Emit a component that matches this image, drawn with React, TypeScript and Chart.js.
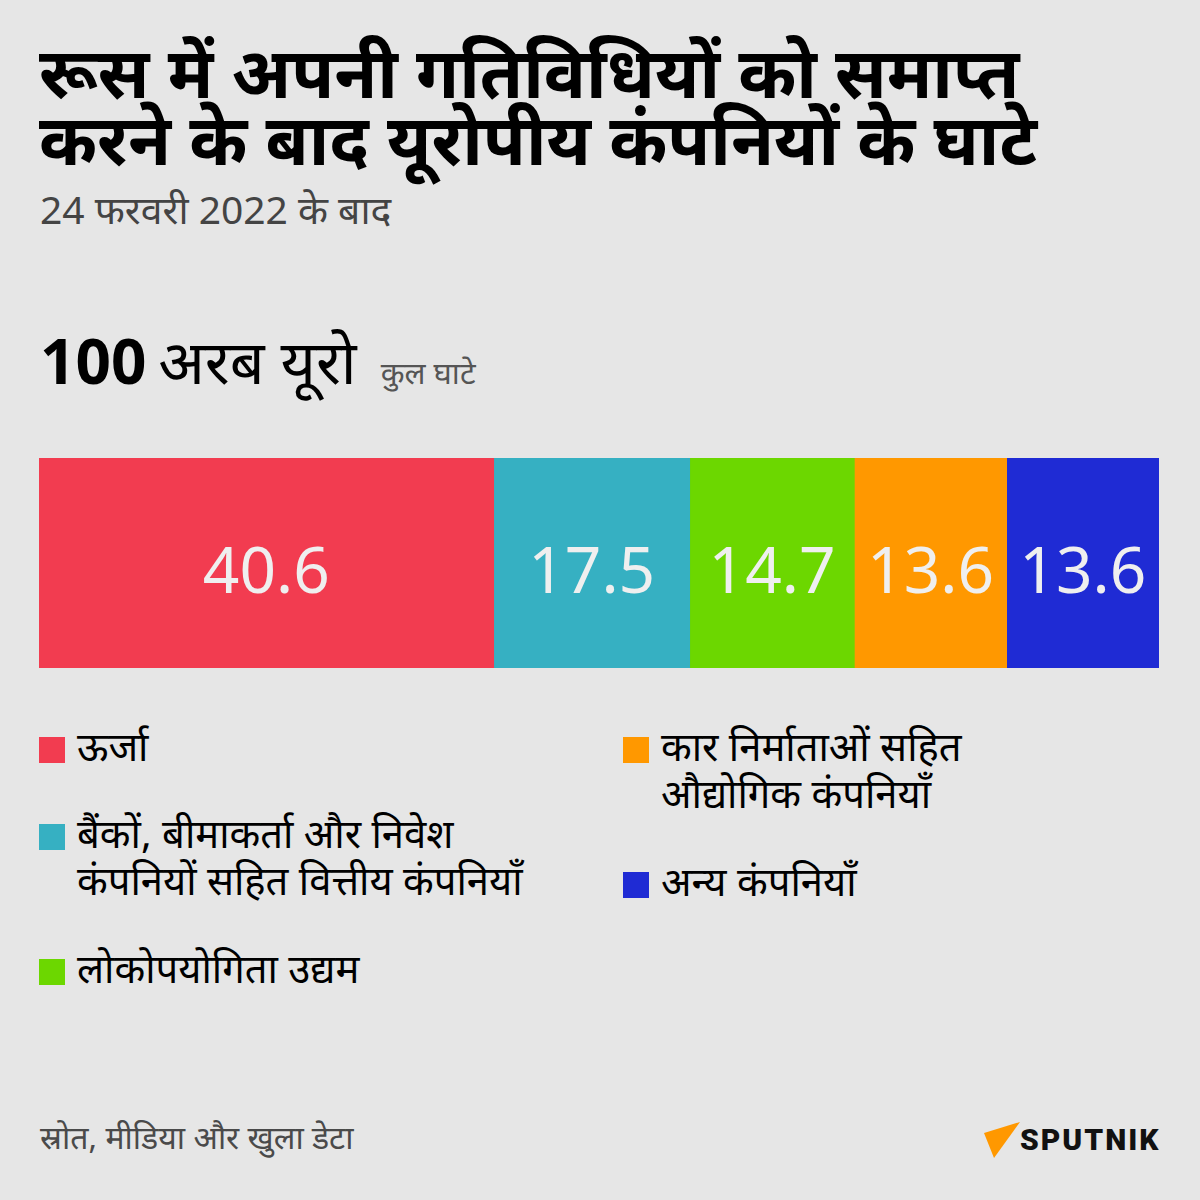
import React, { useEffect, useRef } from "react";
import { Chart, registerables } from "chart.js";

Chart.register(...registerables);

const categories = ["ऊर्जा", "बैंकों, बीमाकर्ता और निवेश कंपनियों सहित वित्तीय कंपनियाँ", "लोकोपयोगिता उद्यम", "कार निर्माताओं सहित औद्योगिक कंपनियाँ", "अन्य कंपनियाँ"];
const values = [40.6, 17.5, 14.7, 13.6, 13.6];
const colors = ["#f23c50", "#36b0c2", "#6cd700", "#ff9800", "#1f2bd4"];
const valueLabels = ["40.6", "17.5", "14.7", "13.6", "13.6"];

const FONT = "'Noto Sans', 'Noto Sans Devanagari', sans-serif";

const labelPlugin = {
  id: "segLabels",
  afterDatasetsDraw(chart: any) {
    const ctx = chart.ctx;
    ctx.save();
    ctx.fillStyle = "#efefef";
    ctx.font = "64px 'Noto Sans', sans-serif";
    ctx.textAlign = "center";
    ctx.textBaseline = "middle";
    chart.data.datasets.forEach((ds: any, i: number) => {
      const meta = chart.getDatasetMeta(i);
      const el = meta.data[0];
      if (!el) return;
      const x = (el.x + el.base) / 2;
      ctx.fillText(valueLabels[i], x, el.y + 12);
    });
    ctx.restore();
  },
};

function BarChart() {
  const ref = useRef<HTMLCanvasElement | null>(null);
  useEffect(() => {
    if (!ref.current) return;
    const chart = new Chart(ref.current, {
      type: "bar",
      data: {
        labels: [""],
        datasets: values.map((v, i) => ({
          label: categories[i],
          data: [v],
          backgroundColor: colors[i],
          borderWidth: 0,
          barPercentage: 1,
          categoryPercentage: 1,
        })),
      },
      options: {
        indexAxis: "y",
        animation: false,
        responsive: false,
        maintainAspectRatio: false,
        layout: { padding: 0 },
        plugins: { legend: { display: false }, tooltip: { enabled: false } },
        scales: {
          x: { stacked: true, min: 0, max: 100, display: false },
          y: { stacked: true, display: false },
        },
      },
      plugins: [labelPlugin],
    });
    return () => chart.destroy();
  }, []);
  return <canvas ref={ref} width={1120} height={210} style={{ position: "absolute", left: 39, top: 458, width: 1120, height: 210 }} />;
}

const legendItems = [
  { i: 0, x: 39, y: 737, lines: ["ऊर्जा"] },
  { i: 1, x: 39, y: 824, lines: ["बैंकों, बीमाकर्ता और निवेश", "कंपनियों सहित वित्तीय कंपनियाँ"] },
  { i: 2, x: 39, y: 959, lines: ["लोकोपयोगिता उद्यम"] },
  { i: 3, x: 623, y: 737, lines: ["कार निर्माताओं सहित", "औद्योगिक कंपनियाँ"] },
  { i: 4, x: 623, y: 872, lines: ["अन्य कंपनियाँ"] },
];

export default function App() {
  useEffect(() => {
    document.body.style.margin = "0";
  }, []);
  return (
    <div style={{ position: "absolute", left: 0, top: 0, width: 1200, height: 1200, background: "#e6e6e6", fontFamily: FONT, overflow: "hidden" }}>
      <div style={{ position: "absolute", left: 39, top: 38, fontSize: 70, lineHeight: "67px", fontWeight: 700, color: "#000", whiteSpace: "nowrap" }}>
        <div>रूस में अपनी गतिविधियों को समाप्त</div>
        <div>करने के बाद यूरोपीय कंपनियों के घाटे</div>
      </div>
      <div style={{ position: "absolute", left: 40, top: 185, fontSize: 39, lineHeight: "48px", color: "#444", whiteSpace: "nowrap" }}>24 फरवरी 2022 के बाद</div>
      <div style={{ position: "absolute", left: 40, top: 318, whiteSpace: "nowrap", color: "#000" }}>
        <span style={{ fontSize: 62, fontWeight: 700 }}>100</span>
        <span style={{ fontSize: 61, marginLeft: -4 }}> अरब यूरो</span>
        <span style={{ fontSize: 31, color: "#555", marginLeft: 24 }}>कुल घाटे</span>
      </div>
      <BarChart />
      {legendItems.map((it) => (
        <div key={it.i} style={{ position: "absolute", left: it.x, top: it.y }}>
          <div style={{ position: "absolute", left: 0, top: 0, width: 26, height: 26, background: colors[it.i] }} />
          <div style={{ position: "absolute", left: 38, top: -15, fontSize: 40, lineHeight: "47px", color: "#000", whiteSpace: "nowrap" }}>
            {it.lines.map((l, k) => (
              <div key={k}>{l}</div>
            ))}
          </div>
        </div>
      ))}
      <div style={{ position: "absolute", left: 40, top: 1117, fontSize: 32, lineHeight: "40px", color: "#4a4a4a", whiteSpace: "nowrap" }}>स्रोत, मीडिया और खुला डेटा</div>
      <svg style={{ position: "absolute", left: 982, top: 1120 }} width={40} height={40}>
        <polygon points="2,13 38,2 12,38" fill="#ff9800" />
      </svg>
      <div style={{ position: "absolute", left: 1020, top: 1122, fontSize: 30, lineHeight: "36px", fontWeight: 900, color: "#111", letterSpacing: 2, fontFamily: "Roboto, sans-serif" }}>SPUTNIK</div>
    </div>
  );
}
